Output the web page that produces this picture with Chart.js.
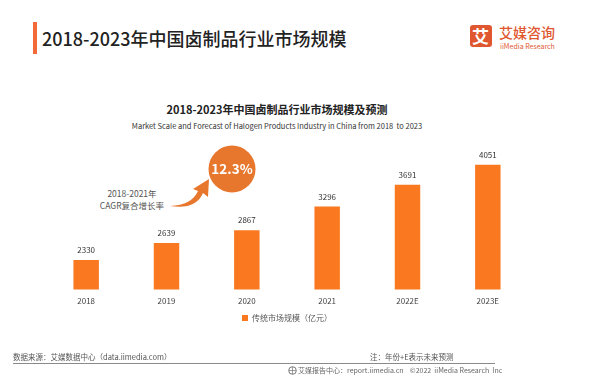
<!DOCTYPE html>
<html><head><meta charset="utf-8">
<script src="https://cdn.jsdelivr.net/npm/chart.js@4/dist/chart.umd.min.js"></script>
<style>
html,body{margin:0;padding:0;background:#fff;}
#wrap{position:relative;width:600px;height:387px;overflow:hidden;font-family:"Noto Sans CJK SC","Noto Sans",sans-serif;}
.t{position:absolute;white-space:nowrap;line-height:1;}
canvas{position:absolute;left:0;top:0;}
</style></head>
<body>
<div id="wrap">
  <div style="position:absolute;left:33px;top:22px;width:4px;height:32px;background:#F26A3A;"></div>
  <div class="t" style="left:42px;top:29px;font-size:18px;color:#222;font-weight:500;">2018-2023年中国卤制品行业市场规模</div>
  <div style="position:absolute;left:470px;top:25px;width:22px;height:22px;background:#E0572F;border-radius:3px;"></div>
  <div class="t" style="left:472px;top:27px;font-size:17px;color:#fff;font-weight:700;">艾</div>
  <div class="t" style="left:499px;top:25px;font-size:14px;color:#E0572F;font-weight:500;">艾媒咨询</div>
  <div class="t" style="left:500px;top:43px;font-size:7px;color:#E0572F;">iiMedia Research</div>

  <div class="t" style="left:0;width:554px;text-align:center;top:104px;font-size:11px;color:#222;font-weight:700;">2018-2023年中国卤制品行业市场规模及预测</div>
  <div class="t" style="left:0;width:554px;text-align:center;top:122px;font-size:7.5px;color:#333;">Market Scale and Forecast of Halogen Products Industry in China from 2018&nbsp; to 2023</div>

  <div class="t" style="left:92px;top:187px;width:80px;text-align:center;font-size:8.5px;color:#555;line-height:12px;">2018-2021年<br>CAGR复合增长率</div>

  <canvas id="c" width="600" height="387"></canvas>

  <svg style="position:absolute;left:0;top:0;" width="600" height="387">
    <circle cx="232" cy="169" r="23.5" fill="#E8772E"/>
    <text x="232" y="174" text-anchor="middle" font-size="13.5" font-weight="700" fill="#fff" font-family="Noto Sans CJK SC, Noto Sans, sans-serif">12.3%</text>
    <path d="M170,206 Q192,205 198,191 L193,189 L209,179 L208,197 L203,193 Q196,210 170,206 Z" fill="#E8772E"/>
  </svg>

  <div class="t" style="left:13px;top:353px;font-size:7.5px;color:#555;">数据来源：艾媒数据中心（data.iimedia.com）</div>
  <div class="t" style="left:370px;top:353px;font-size:7.5px;color:#555;">注：年份+E表示未来预测</div>
  <div style="position:absolute;left:13px;top:363px;width:482px;height:1px;background:#8a8a8a;"></div>
  <svg style="position:absolute;left:288px;top:366px;" width="9" height="9"><circle cx="4.5" cy="4.5" r="3.8" fill="none" stroke="#777" stroke-width="1"/><path d="M1,4.5 H8 M4.5,1 V8" stroke="#777" stroke-width="0.7"/></svg>
  <div class="t" style="left:298px;top:367px;font-size:7px;color:#666;">艾媒报告中心：report.iimedia.cn&nbsp;&nbsp;&nbsp; ©2022&nbsp; iiMedia Research&nbsp; Inc</div>
</div>
<script>
const categories = ["2018","2019","2020","2021","2022E","2023E"];
const marketScale = [2330, 2639, 2867, 3296, 3691, 4051];
const seriesName = "传统市场规模（亿元）";

const FONT = '"Noto Sans CJK SC","Noto Sans",sans-serif';
const valueLabels = {
  id: 'valueLabels',
  afterDatasetsDraw(chart) {
    const ctx = chart.ctx;
    const meta = chart.getDatasetMeta(0);
    ctx.save();
    ctx.font = '8px ' + FONT;
    ctx.fillStyle = '#333';
    ctx.textAlign = 'center';
    ctx.textBaseline = 'middle';
    meta.data.forEach((bar, i) => {
      ctx.fillText(String(marketScale[i]), bar.x, bar.y - 10);
    });
    ctx.restore();
  }
};

new Chart(document.getElementById('c'), {
  type: 'bar',
  data: {
    labels: categories,
    datasets: [{
      label: seriesName,
      data: marketScale,
      backgroundColor: '#FA7920',
      borderWidth: 0,
      barPercentage: 0.317,
      categoryPercentage: 1
    }]
  },
  options: {
    responsive: false,
    animation: false,
    layout: { padding: { left: 46, right: 72, top: 151, bottom: 55 } },
    scales: {
      x: {
        grid: { display: false, drawTicks: false },
        border: { display: false },
        ticks: { color: '#444', font: { size: 8, family: FONT }, padding: 7 }
      },
      y: {
        display: false,
        min: 1800,
        max: 4300
      }
    },
    plugins: {
      legend: {
        position: 'bottom',
        labels: {
          color: '#555',
          font: { size: 8, family: FONT },
          boxWidth: 6,
          boxHeight: 6,
          padding: 1
        }
      },
      tooltip: { enabled: false }
    }
  },
  plugins: [valueLabels]
});
</script>
</body></html>
